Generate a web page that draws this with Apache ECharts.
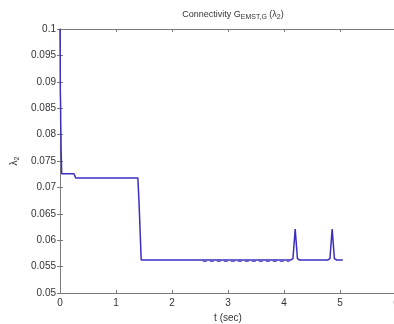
<!DOCTYPE html>
<html><head><meta charset="utf-8">
<script src="https://cdn.jsdelivr.net/npm/echarts@6/dist/echarts.min.js"></script>
<style>html,body{margin:0;padding:0;background:#fff}#c{width:394px;height:324px}</style>
</head><body><div id="c"></div>
<script>
// time (sec) and lambda_2 values
const tValues = [0, 0.003, 0.006, 0.01, 0.013, 0.017, 0.02, 0.025, 0.03, 0.05, 0.25, 0.28, 0.3, 1.39, 1.41, 1.45, 4.12, 4.16, 4.2, 4.24, 4.28, 4.78, 4.82, 4.86, 4.9, 4.94, 5.05];
const lambdaValues = [0.1, 0.095, 0.088, 0.086, 0.082, 0.08, 0.077, 0.075, 0.0726, 0.0726, 0.0726, 0.0718, 0.0718, 0.0718, 0.0675, 0.05625, 0.05625, 0.0565, 0.0621, 0.0565, 0.05625, 0.05625, 0.0565, 0.0621, 0.0565, 0.05625, 0.05625];
const lowT = [2.55, 4.1];
const lowV = [0.05598, 0.05598];
const xTicks = [0, 1, 2, 3, 4, 5, 6];
const yTicks = [0.05, 0.055, 0.06, 0.065, 0.07, 0.075, 0.08, 0.085, 0.09, 0.095, 0.1];

const mainData = tValues.map((t, i) => [t, lambdaValues[i]]);
const lowData = lowT.map((t, i) => [t, lowV[i]]);
const axisCol = '#7a7a7a';
const txt = '#333';
const chart = echarts.init(document.getElementById('c'));
chart.setOption({
  animation: false,
  textStyle: {fontFamily: 'Liberation Sans'},
  title: {
    text: 'Connectivity G{s|EMST,G} (λ{s|2})',
    left: 228, top: 3, textAlign: 'center',
    textStyle: {fontSize: 9, fontWeight: 'normal', color: txt,
      rich: {s: {fontSize: 7, color: txt, verticalAlign: 'bottom', padding: [6, 0, 0, 0]}}}
  },
  grid: {left: 60, top: 29, width: 336, height: 264, show: false, outerBoundsMode: 'none', containLabel: false},
  xAxis: [{
    type: 'value', min: 0, max: 6, interval: 1,
    name: 't (sec)', nameLocation: 'middle', nameGap: 19,
    nameTextStyle: {fontSize: 10, color: txt},
    axisLine: {onZero: false, lineStyle: {color: axisCol}},
    axisTick: {inside: true, length: 3, lineStyle: {color: axisCol}},
    axisLabel: {fontSize: 10, color: txt, margin: 5, formatter: v => xTicks.includes(v) ? String(v) : ''},
    splitLine: {show: false}
  }, {
    type: 'value', position: 'top', min: 0, max: 6, interval: 1,
    axisLine: {show: true, lineStyle: {color: axisCol}},
    axisTick: {inside: true, length: 3, lineStyle: {color: axisCol}},
    axisLabel: {show: false}, splitLine: {show: false}
  }],
  yAxis: [{
    type: 'value', min: 0.05, max: 0.1, interval: 0.005,
    name: 'λ{s|2}', nameLocation: 'middle', nameGap: 36, nameRotate: 90,
    nameTextStyle: {fontSize: 10, color: txt, rich: {s: {fontSize: 7, color: txt, padding: [5, 0, 0, 0]}}},
    axisLine: {show: true, lineStyle: {color: axisCol}},
    axisTick: {inside: true, length: 3, lineStyle: {color: axisCol}},
    axisLabel: {fontSize: 10, color: txt, margin: 4,
      formatter: v => { const r = Math.round(v * 1000) / 1000; return yTicks.some(y => Math.abs(y - r) < 1e-9) ? String(r) : ''; }},
    splitLine: {show: false}
  }, {
    type: 'value', position: 'right', min: 0.05, max: 0.1, interval: 0.005,
    axisLine: {show: true, lineStyle: {color: axisCol}},
    axisTick: {inside: true, length: 3, lineStyle: {color: axisCol}},
    axisLabel: {show: false}, splitLine: {show: false}
  }],
  series: [{
    type: 'line', data: lowData, showSymbol: false, symbol: 'none',
    lineStyle: {color: '#5a50c8', width: 1, type: [4, 3]}
  }, {
    type: 'line', data: mainData, showSymbol: false, symbol: 'none',
    lineStyle: {color: '#3b2fc0', width: 1.5}
  }]
});
</script></body></html>
